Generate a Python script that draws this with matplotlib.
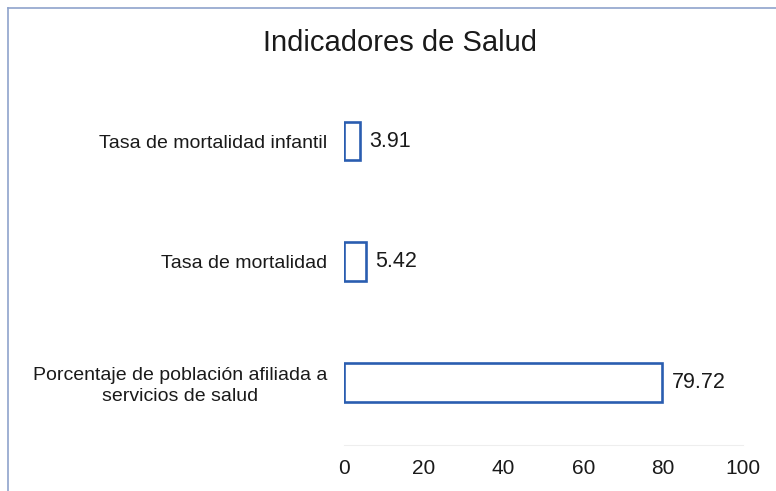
import matplotlib.pyplot as plt
from matplotlib.lines import Line2D

# data
categorias = [
    "Tasa de mortalidad infantil",
    "Tasa de mortalidad",
    "Porcentaje de población afiliada a\nservicios de salud",
]
valores = [3.91, 5.42, 79.72]
ticks_x = [0, 20, 40, 60, 80, 100]

plt.rcParams["font.family"] = ["Liberation Sans", "DejaVu Sans"]

fig = plt.figure(figsize=(7.76, 4.91), dpi=100)
ax = fig.add_axes([0.4433, 0.0937, 0.5142, 0.7026])

pos = list(range(len(categorias)))
ax.barh(pos, valores, height=0.32, color="white", edgecolor="#2a5db0", linewidth=1.9)

for y, v in zip(pos, valores):
    ax.annotate(f"{v:.2f}", (v, y), xytext=(7, 0), textcoords="offset points",
                va="center", ha="left", fontsize=15.5, color="#1a1a1a")

ax.set_xlim(0, 100)
ax.set_ylim(2.52, -0.34)
ax.set_xticks(ticks_x)
ax.set_xticklabels([str(t) for t in ticks_x], fontsize=15, color="#1a1a1a")
ax.set_yticks(pos)
ax.set_yticklabels(categorias, fontsize=14, color="#1a1a1a", linespacing=1.3,
                   multialignment="center")
ax.tick_params(axis="both", length=0)
ax.tick_params(axis="y", pad=12)
ax.tick_params(axis="x", pad=10)
for side in ["top", "right", "left"]:
    ax.spines[side].set_visible(False)
ax.spines["bottom"].set_color("#eeeeee")

fig.text(0.516, 0.912, "Indicadores de Salud", ha="center", va="center",
         fontsize=21, color="#1a1a1a")

# marco del grafico (escaneado, solo borde superior e izquierdo visibles)
fig.add_artist(Line2D([0.0103, 1.0], [0.9837, 0.9837], transform=fig.transFigure,
                      color="#8fa3cc", linewidth=1.2))
fig.add_artist(Line2D([0.0103, 0.0103], [0.0, 0.9837], transform=fig.transFigure,
                      color="#8fa3cc", linewidth=1.2))

fig.savefig("out.png", dpi=100)
